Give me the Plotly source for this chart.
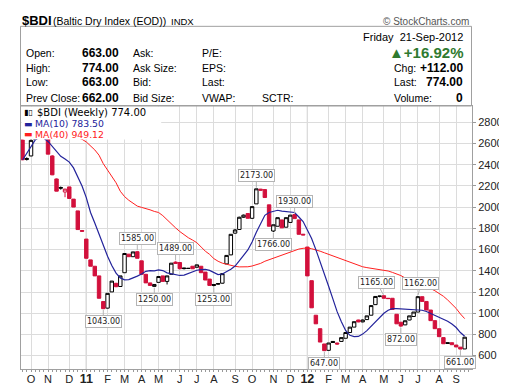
import plotly.graph_objects as go
import pandas as pd

# ---------------- data (weekly, Fridays) ----------------
weeks = pd.date_range('2010-09-24', periods=105, freq='W-FRI')

opens = [2634, 2458, 2483, 2640, 2780, 2720, 2660, 2483, 2266, 2185, 2143, 2191, 2076, 1965, 1780,
         1699, 1503, 1443, 1352, 1110, 1048, 1201, 1282, 1252, 1382, 1557, 1533, 1580, 1494, 1367,
         1286, 1253, 1291, 1352, 1300, 1367, 1482, 1478, 1427, 1424, 1443, 1433, 1443, 1388, 1322,
         1271, 1280, 1283, 1465, 1550, 1755, 1790, 1905, 1940, 1895, 2031, 2170, 2166, 2022, 1775,
         1820, 1880, 1811, 1856, 1930, 1880, 1745, 1624, 1307, 981, 854, 710, 650, 734, 719,
         734, 764, 818, 869, 936, 918, 940, 981, 1081, 1162, 1165, 1141, 1141, 990, 915,
         890, 936, 969, 1011, 1156, 1111, 1030, 930, 854, 770, 722, 722, 700, 680, 663]
highs = [2640, 2470, 2650, 2790, 2820, 2730, 2665, 2490, 2270, 2195, 2173, 2191, 2076, 1965, 1782,
         1699, 1503, 1443, 1352, 1110, 1187, 1303, 1286, 1352, 1563, 1557, 1578, 1585, 1494, 1367,
         1286, 1271, 1346, 1352, 1352, 1472, 1489, 1481, 1428, 1426, 1443, 1458, 1443, 1388, 1322,
         1271, 1282, 1373, 1549, 1744, 1795, 1910, 1930, 1940, 2005, 2173, 2172, 2166, 2022, 1834,
         1901, 1880, 1901, 1925, 1930, 1880, 1745, 1624, 1307, 981, 854, 710, 719, 736, 722,
         770, 818, 869, 920, 938, 940, 975, 1072, 1160, 1163, 1165, 1143, 1141, 990, 915,
         929, 975, 1011, 1162, 1156, 1111, 1030, 930, 854, 770, 724, 722, 700, 680, 774]
lows = [2444, 2440, 2480, 2640, 2700, 2650, 2500, 2302, 2150, 2165, 2094, 2082, 2001, 1789, 1773,
        1518, 1443, 1352, 1141, 1043, 1045, 1201, 1246, 1252, 1382, 1533, 1533, 1518, 1367, 1286,
        1262, 1250, 1291, 1300, 1271, 1367, 1468, 1413, 1413, 1418, 1419, 1433, 1382, 1313, 1262,
        1253, 1272, 1280, 1465, 1548, 1750, 1785, 1900, 1895, 1890, 2031, 2158, 2091, 1820, 1766,
        1820, 1805, 1811, 1856, 1892, 1744, 1738, 1352, 1051, 900, 728, 647, 648, 720, 703,
        734, 764, 818, 869, 915, 915, 936, 981, 1081, 1150, 1141, 1136, 1035, 900, 872,
        888, 934, 967, 1011, 1111, 1030, 930, 854, 779, 712, 712, 703, 682, 661, 663]
closes = [2447, 2452, 2630, 2780, 2720, 2660, 2500, 2305, 2151, 2180, 2170, 2082, 2001, 1789, 1773,
          1518, 1443, 1352, 1141, 1043, 1187, 1303, 1250, 1352, 1563, 1533, 1578, 1518, 1367, 1286,
          1262, 1271, 1346, 1300, 1352, 1472, 1470, 1420, 1421, 1422, 1419, 1456, 1382, 1313, 1262,
          1263, 1275, 1373, 1545, 1744, 1785, 1905, 1925, 1895, 2005, 2173, 2160, 2091, 1820, 1834,
          1901, 1805, 1901, 1925, 1892, 1744, 1738, 1352, 1051, 900, 728, 647, 719, 724, 710,
          770, 818, 869, 920, 918, 936, 975, 1072, 1158, 1160, 1141, 1138, 1035, 900, 879,
          929, 975, 1011, 1156, 1111, 1030, 930, 854, 779, 712, 716, 703, 682, 662, 774]
ma10 = [2445, 2510, 2580, 2635, 2660, 2650, 2620, 2570, 2520, 2480, 2455, 2425, 2370, 2290, 2200,
        2090, 1950, 1850, 1740, 1635, 1537, 1450, 1378, 1333, 1315, 1317, 1330, 1350, 1370, 1395,
        1401, 1400, 1408, 1402, 1381, 1375, 1364, 1356, 1360, 1374, 1389, 1405, 1411, 1413, 1404,
        1383, 1365, 1370, 1390, 1415, 1445, 1490, 1545, 1597, 1672, 1763, 1851, 1923, 1950, 1962,
        1971, 1963, 1959, 1960, 1950, 1907, 1865, 1785, 1705, 1600, 1490, 1370, 1255, 1135, 1015,
        920, 838, 792, 780, 781, 803, 836, 875, 920, 962, 1000, 1028, 1043, 1043, 1040,
        1039, 1038, 1033, 1032, 1028, 1016, 998, 980, 966, 948, 925, 898, 865, 818, 783.5]
ma40 = [2930, 2920, 2900, 2880, 2860, 2840, 2815, 2790, 2765, 2740, 2715, 2690, 2670, 2655, 2640,
        2615, 2578, 2540, 2490, 2410, 2350, 2290, 2230, 2150, 2100, 2065, 2035, 2010, 1998, 1988,
        1975, 1960, 1950, 1920, 1880, 1845, 1805, 1770, 1740, 1712, 1690, 1665, 1625, 1585, 1555,
        1515, 1490, 1472, 1462, 1450, 1442, 1437, 1434, 1438, 1445, 1455, 1470, 1490, 1505, 1522,
        1535, 1550, 1563, 1580, 1595, 1605, 1612, 1615, 1608, 1598, 1585, 1570, 1555, 1540, 1525,
        1510, 1498, 1478, 1465, 1455, 1438, 1430, 1425, 1420, 1415, 1408, 1398, 1385, 1370, 1355,
        1332, 1308, 1292, 1280, 1266, 1248, 1232, 1212, 1188, 1160, 1125, 1088, 1045, 993, 949.12]

tick_dates = ['2010-10-08', '2010-11-05', '2010-12-10', '2011-01-07', '2011-02-11', '2011-03-11',
              '2011-04-08', '2011-05-06', '2011-06-10', '2011-07-08', '2011-08-05', '2011-09-09',
              '2011-10-07', '2011-11-11', '2011-12-09', '2012-01-06', '2012-02-10', '2012-03-09',
              '2012-04-06', '2012-05-11', '2012-06-08', '2012-07-06', '2012-08-10', '2012-09-07']
tick_text = ['O', 'N', 'D', '11', 'F', 'M', 'A', 'M', 'J', 'J', 'A', 'S',
             'O', 'N', 'D', '12', 'F', 'M', 'A', 'M', 'J', 'J', 'A', 'S']
price_ticks = [600, 800, 1000, 1200, 1400, 1600, 1800, 2000, 2200, 2400, 2600, 2800]

# value call-outs: week index, value, side
label_idx = [27, 19, 31, 36, 45, 55, 59, 64, 71, 85, 89, 93, 103]
label_val = [1585, 1043, 1250, 1489, 1253, 2173, 1766, 1930, 647, 1165, 872, 1162, 661]
label_side = ['high', 'low', 'low', 'high', 'low', 'high', 'low', 'high', 'low', 'high', 'low', 'high', 'low']

# ---------------- styling ----------------
RED = '#d2103c'
BLUE = '#23239b'
MARED = '#ff2020'
GRID = '#dcdcdc'
FRAME = '#a0a0a0'
SANS = 'Liberation Sans, Arial, sans-serif'
DJV = 'DejaVu Sans, Verdana, sans-serif'

W, H = 507, 390
L, R, T, B = 12, 35, 98, 18
PW, PH = W - L - R, H - T - B


def px(x):
    return (x - L) / PW


def py(y):
    return (H - B - y) / PH


fig = go.Figure()

# candle groups: colour by close vs previous close, fill by close vs open
groups = {
    'up_black': dict(line='#000000', fill='#ffffff'),
    'up_red': dict(line=RED, fill='#ffffff'),
    'down_red': dict(line=RED, fill=RED),
    'down_black': dict(line='#000000', fill='#000000'),
}
members = {g: [] for g in groups}
for i in range(len(weeks)):
    prev = closes[i - 1] if i > 0 else opens[i]
    rising = closes[i] >= opens[i]
    lower = closes[i] < prev
    if rising:
        members['up_red' if lower else 'up_black'].append(i)
    else:
        members['down_red' if lower else 'down_black'].append(i)

for g, idx in members.items():
    if not idx:
        continue
    st = groups[g]
    fig.add_trace(go.Candlestick(
        x=[weeks[i] for i in idx],
        open=[opens[i] for i in idx], high=[highs[i] for i in idx],
        low=[lows[i] for i in idx], close=[closes[i] for i in idx],
        increasing=dict(line=dict(color=st['line'], width=1), fillcolor=st['fill']),
        decreasing=dict(line=dict(color=st['line'], width=1), fillcolor=st['fill']),
        whiskerwidth=0, showlegend=False, hoverinfo='skip'))

fig.add_trace(go.Scatter(x=weeks, y=ma40, mode='lines', line=dict(color=MARED, width=1),
                         showlegend=False, hoverinfo='skip'))
fig.add_trace(go.Scatter(x=weeks, y=ma10, mode='lines', line=dict(color=BLUE, width=1.2),
                         showlegend=False, hoverinfo='skip'))

shapes = []
# darker year gridlines
for d, t in zip(tick_dates, tick_text):
    if t in ('11', '12'):
        shapes.append(dict(type='line', xref='x', yref='paper', x0=d, x1=d, y0=0, y1=1,
                           line=dict(color='#a8a8a8', width=1), layer='between'))
# legend white box
shapes.append(dict(type='rect', xref='paper', yref='paper', x0=px(12.6), x1=px(155), y0=py(133),
                   y1=py(98.6), fillcolor='white', line=dict(width=0), layer='above'))
# header box
shapes.append(dict(type='rect', xref='paper', yref='paper', x0=px(11.5), x1=px(471.5), y0=py(98),
                   y1=py(15), fillcolor='rgba(0,0,0,0)', line=dict(color=FRAME, width=1)))

ann = []


def txt(x, y, s, size=10.5, color='#000', anchor='left', font=SANS, bold=False):
    if bold:
        s = '<b>' + s + '</b>'
    ann.append(dict(xref='paper', yref='paper', x=px(x), y=py(y), text=s, showarrow=False,
                    xanchor=anchor, yanchor='middle', font=dict(family=font, size=size, color=color)))


# title row
txt(10.5, 9, '$BDI', size=13, bold=True)
txt(42.5, 9.5, '(Baltic Dry Index (EOD))', size=10.5)
txt(163, 9.5, 'INDX', size=9.5)
txt(471, 9.5, '\u00a9 StockCharts.com', size=10, color='#555', anchor='right')

# info box
txt(465, 25.7, 'Friday\u00a0 21-Sep-2012', size=11, anchor='right')
rows_y = [42.3, 58.3, 73.3, 89.3]
left_lab = ['Open:', 'High:', 'Low:', 'Prev Close:']
left_val = ['663.00', '774.00', '663.00', '662.00']
mid_lab = ['Ask:', 'Ask Size:', 'Bid:', 'Bid Size:']
mid2_lab = ['P/E:', 'EPS:', 'Last:', 'VWAP:']
for y, a, v, m, m2 in zip(rows_y, left_lab, left_val, mid_lab, mid2_lab):
    txt(15.5, y, a, size=10.5)
    txt(114.5, y, v, size=12, anchor='right', bold=True)
    txt(124.5, y, m, size=10.5)
    txt(194.5, y, m2, size=10.5)
txt(256, rows_y[3], 'SCTR:', size=10.5)
GREEN = '#2f7a2f'
txt(465, rows_y[0], '\u25b2+16.92%', size=15, color=GREEN, anchor='right', bold=True)
right_lab = ['Chg:', 'Last:', 'Volume:']
right_val = ['+112.00', '774.00', '0']
for y, a, v in zip(rows_y[1:], right_lab, right_val):
    txt(390, y, a, size=10.5)
    txt(465, y, v, size=12, anchor='right', bold=True)

# legend in plot
txt(13, 105, '\u25ae\u25af', size=8, font=DJV)
txt(26, 105, '$BDI (Weekly) 774.00', size=10, font=DJV)
txt(13, 116.3, '\u25ac', size=9, color=BLUE, font=DJV)
txt(24.5, 116.3, 'MA(10) 783.50', size=9.3, color=BLUE, font=DJV)
txt(13, 127.5, '\u25ac', size=9, color=MARED, font=DJV)
txt(24.5, 127.5, 'MA(40) 949.12', size=9.3, color=MARED, font=DJV)

# value call-outs
shift = {85: -7, 93: 3}
for i, v, s in zip(label_idx, label_val, label_side):
    ann.append(dict(x=weeks[i], y=v, xref='x', yref='y', text=f'{v:.2f}', showarrow=True,
                    arrowhead=0, arrowwidth=1, arrowcolor='#b4b4b4', standoff=1,
                    ax=shift.get(i, 0), ay=-13 if s == 'high' else 13,
                    font=dict(family=DJV, size=8, color='#222'),
                    bgcolor='white', bordercolor='#b4b4b4', borderwidth=1, borderpad=1))

ticktext_fmt = [("<b><span style='font-size:12.5px'>%s</span></b>" % t) if t in ('11', '12') else t
                for t in tick_text]

fig.update_layout(
    width=W, height=H, margin=dict(l=L, r=R, t=T, b=B),
    paper_bgcolor='white', plot_bgcolor='white',
    shapes=shapes, annotations=ann, hovermode=False, showlegend=False,
    boxmode='overlay', boxgap=0.15, boxgroupgap=0.05,
    xaxis=dict(type='date', range=['2010-09-21 12:00', '2012-10-03 02:00'],
               tickvals=tick_dates, ticktext=ticktext_fmt, ticks='', showgrid=True,
               gridcolor=GRID, gridwidth=1, showline=True, linecolor=FRAME, mirror=True,
               tickfont=dict(family=SANS, size=11, color='#222'), zeroline=False,
               rangeslider=dict(visible=False), fixedrange=True,
               minor=dict(ticks='outside', ticklen=2, tickcolor='#999', dtick=7 * 86400000,
                          tick0='2010-09-24', showgrid=False)),
    yaxis=dict(side='right', range=[474, 2954], tickvals=price_ticks, ticks='outside', ticklen=3,
               tickcolor='#999', showgrid=True, gridcolor=GRID, showline=True, linecolor=FRAME,
               mirror=True, zeroline=False, fixedrange=True,
               tickfont=dict(family=SANS, size=11, color='#222')),
)

fig.write_html('out.html')
